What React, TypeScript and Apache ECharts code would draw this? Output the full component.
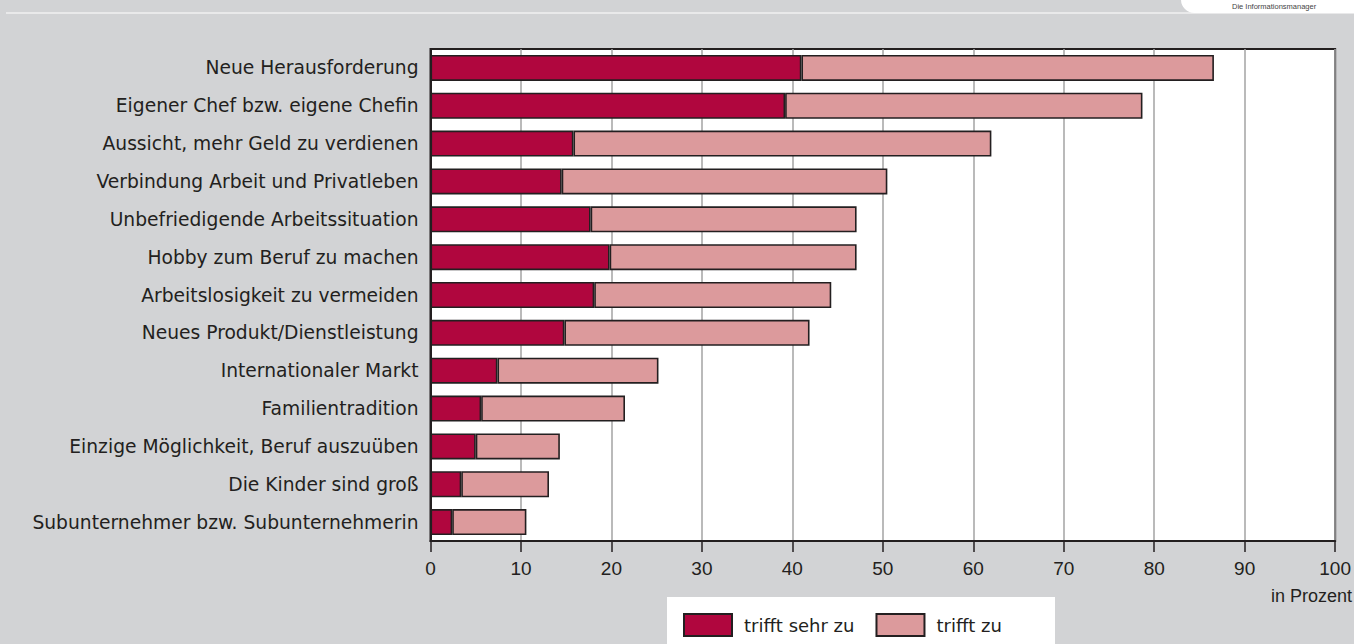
import React, { useEffect, useRef } from "react";
import * as echarts from "echarts";

// Reasons for starting a business, share of respondents in percent
const categories: string[] = [
  "Neue Herausforderung",
  "Eigener Chef bzw. eigene Chefin",
  "Aussicht, mehr Geld zu verdienen",
  "Verbindung Arbeit und Privatleben",
  "Unbefriedigende Arbeitssituation",
  "Hobby zum Beruf zu machen",
  "Arbeitslosigkeit zu vermeiden",
  "Neues Produkt/Dienstleistung",
  "Internationaler Markt",
  "Familientradition",
  "Einzige Möglichkeit, Beruf auszuüben",
  "Die Kinder sind groß",
  "Subunternehmer bzw. Subunternehmerin",
];

// "trifft sehr zu"
const stronglyAgree: number[] = [41.0, 39.2, 15.8, 14.5, 17.7, 19.8, 18.1, 14.8, 7.4, 5.6, 5.0, 3.4, 2.4];
// "trifft zu"
const agree: number[] = [45.6, 39.5, 46.2, 36.0, 29.4, 27.3, 26.2, 27.1, 17.8, 15.9, 9.3, 9.7, 8.2];

const seriesNames: string[] = ["trifft sehr zu", "trifft zu"];
const axisUnit = "in Prozent";
const brandLine = "Die Informationsmanager";

const DARK = "#b0063e";
const LIGHT = "#dc9a9c";
const INK = "#231f20";
const BG = "#d2d3d5";

export default function App() {
  const ref = useRef<HTMLDivElement>(null);

  useEffect(() => {
    if (!ref.current) return;
    const chart = echarts.init(ref.current, null, { renderer: "svg" });
    const barStyle = (color: string) => ({
      color,
      borderColor: INK,
      borderWidth: 1.6,
    });
    chart.setOption({
      animation: false,
      backgroundColor: BG,
      grid: {
        left: 430.5,
        right: 17,
        top: 49,
        bottom: 103,
        show: true,
        backgroundColor: "#ffffff",
        borderColor: INK,
        borderWidth: 2,
        containLabel: false,
      },
      legend: {
        left: 683,
        top: 613,
        padding: 0,
        itemWidth: 48,
        itemHeight: 22,
        itemGap: 21,
        icon: "rect",
        data: seriesNames,
        textStyle: {
          fontFamily: "DejaVu Sans",
          fontSize: 18,
          color: INK,
          padding: [0, 0, 0, 7],
        },
      },
      xAxis: {
        type: "value",
        min: 0,
        max: 100,
        interval: 10,
        axisLine: { show: true, lineStyle: { color: INK, width: 2 } },
        axisTick: { show: true, length: 11, lineStyle: { color: INK, width: 1.5 } },
        axisLabel: {
          fontFamily: "Liberation Sans",
          fontSize: 19,
          color: INK,
          margin: 18,
        },
        splitLine: { show: true, lineStyle: { color: "#a3a3a3", width: 1.5 } },
      },
      yAxis: {
        type: "category",
        inverse: true,
        data: categories,
        axisLine: { show: true, lineStyle: { color: INK, width: 2 } },
        axisTick: { show: false },
        axisLabel: {
          fontFamily: "DejaVu Sans",
          fontSize: 18.7,
          color: INK,
          margin: 12,
        },
      },
      series: [
        {
          name: seriesNames[0],
          type: "bar",
          stack: "total",
          barWidth: 26,
          data: stronglyAgree,
          itemStyle: barStyle(DARK),
        },
        {
          name: seriesNames[1],
          type: "bar",
          stack: "total",
          barWidth: 26,
          data: agree,
          itemStyle: barStyle(LIGHT),
        },
      ],
      graphic: [
        // header strip and brand tab
        {
          type: "rect",
          shape: { x: 6, y: 12, width: 1348, height: 2 },
          style: { fill: "#e9e9ea" },
          silent: true,
        },
        {
          type: "rect",
          shape: { x: 1181, y: -14, width: 200, height: 27, r: 14 },
          style: { fill: "#ffffff" },
          silent: true,
        },
        {
          type: "text",
          x: 1232,
          y: 2,
          style: {
            text: brandLine,
            fontFamily: "Liberation Sans",
            fontSize: 7.5,
            fill: "#444444",
          },
          silent: true,
        },
        // legend panel
        {
          type: "rect",
          z: -1,
          shape: { x: 667, y: 597, width: 388, height: 47 },
          style: { fill: "#ffffff" },
          silent: true,
        },
        {
          type: "text",
          x: 1352,
          y: 587,
          style: {
            text: axisUnit,
            align: "right",
            fontFamily: "Liberation Sans",
            fontSize: 18,
            fill: INK,
          },
          silent: true,
        },
      ],
    });
    return () => chart.dispose();
  }, []);

  return (
    <div
      ref={ref}
      style={{ position: "absolute", left: 0, top: 0, width: 1354, height: 644 }}
    />
  );
}
